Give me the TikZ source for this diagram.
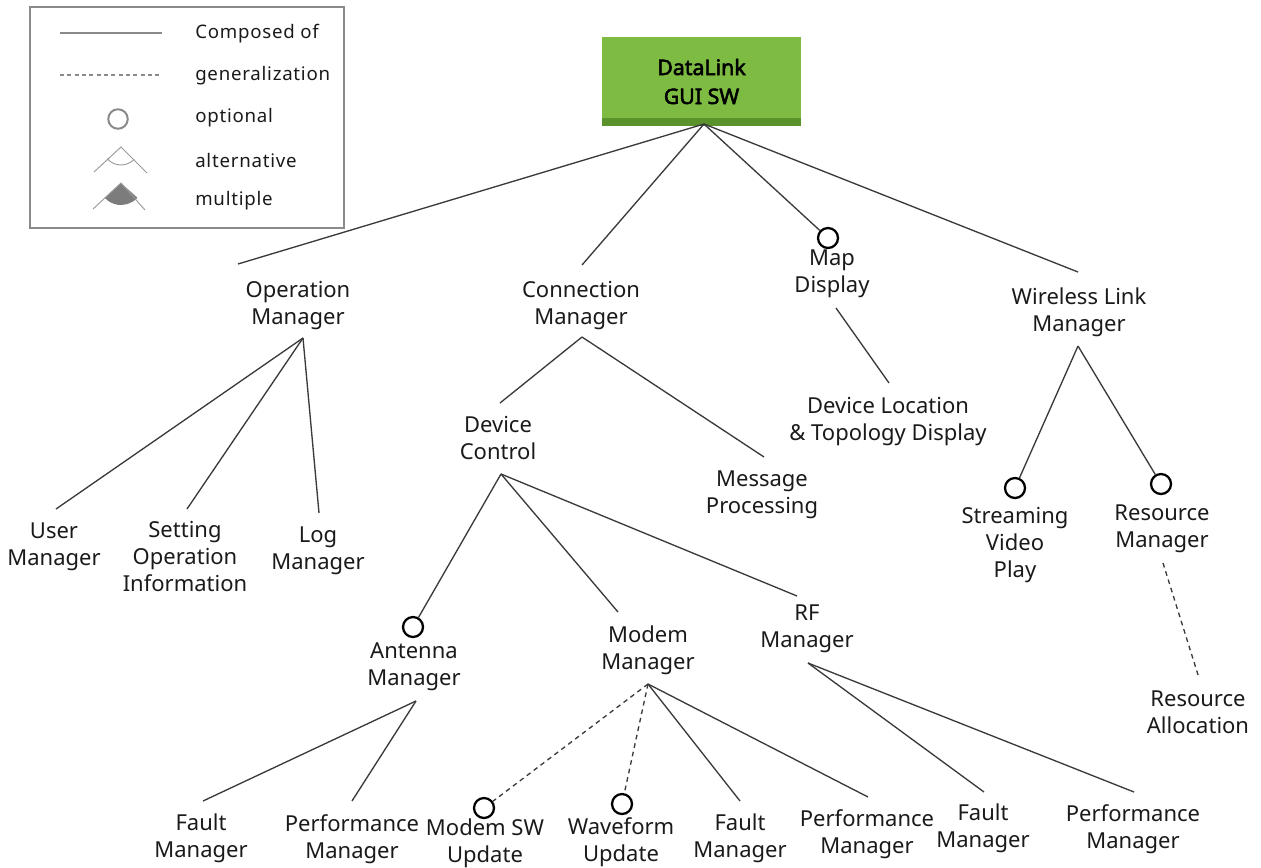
\documentclass[tikz,border=0pt]{standalone}
\usepackage{fontspec}
\setmainfont{Noto Sans}[AutoFakeBold=2.5]
\usetikzlibrary{calc}
\definecolor{linec}{HTML}{3A3A3A}
\definecolor{txtc}{HTML}{1A1A1A}
\definecolor{leggray}{HTML}{8A8A8A}
\definecolor{legsym}{HTML}{9A9A9A}
\definecolor{rootgreen}{HTML}{7DBB42}
\definecolor{rootdark}{HTML}{5A922B}
\begin{document}
\begin{tikzpicture}[x=0.75pt,y=-0.75pt,
  feat/.style={font=\fontsize{16.5}{20.25}\selectfont, text=txtc, align=center, inner sep=0pt, anchor=north},
  opt/.style={circle, draw=black, line width=1.7pt, minimum size=15pt, inner sep=0pt},
  comp/.style={draw=linec, line width=1pt},
  gen/.style={comp, dash pattern=on 3.5pt off 3pt},
  rootbox/.style={fill=rootgreen, minimum width=149.25pt, minimum height=66.75pt, inner sep=0pt,
    font=\bfseries\fontsize{16}{21.75}\selectfont, align=center, text=black},
  legtext/.style={font=\fontsize{14}{16}\selectfont\addfontfeature{LetterSpace=4}, text=txtc, anchor=west, inner sep=0pt},
  legline/.style={draw=leggray, line width=0.8pt},
  legthin/.style={draw=legsym, line width=0.7pt}]
\path[use as bounding box] (0,0) rectangle (1261,868);
\clip (0,0) rectangle (1261,868);

% ---------- legend ----------
\node[draw=leggray, line width=1.5pt, minimum width=235.5pt, minimum height=165.75pt, inner sep=0pt] (legend) at (187,117.5) {};
\draw[legline] (60,33) -- (162,33);
\draw[legline, dash pattern=on 3pt off 2.5pt] (60,75) -- (162,75);
\node[circle, draw=leggray, line width=1.5pt, minimum size=14.6pt, inner sep=0pt] (legopt) at (118,119) {};
\coordinate (altapex) at (121,147);
\draw[legthin] (94,172) -- (altapex) -- (147,173);
\draw[legthin] (altapex) ++(43:18) arc[start angle=43, end angle=139, radius=18];
\coordinate (mulapex) at (121,183);
\fill[fill=leggray!90!black] (mulapex) -- ++(42:22) arc[start angle=42, end angle=138, radius=22] -- cycle;
\draw[legthin] (93,209) -- (mulapex) -- (145,210);
\node[legtext] (lt1) at (195,34) {Composed of};
\node[legtext] (lt2) at (195,76) {generalization};
\node[legtext] (lt3) at (195,118) {optional};
\node[legtext] (lt4) at (195,160) {alternative};
\node[legtext] (lt5) at (195,201) {multiple};

% ---------- root ----------
\node[rootbox] (root) at (701.5,81.5) {DataLink\\GUI SW};
\fill[rootdark] (root.south west) rectangle ([yshift=6pt]root.south east);
\coordinate (rootout) at (704,124);

% ---------- features ----------
\node[feat] (om)  at (298,281) {Operation\\Manager};
\node[feat] (cm)  at (581,281) {Connection\\Manager};
\node[feat] (md)  at (832,250) {Map\\Display};
\node[opt]  (mdc) at (828,238) {};
\node[feat] (wlm) at (1079,288) {Wireless Link\\Manager};

\node[feat] (um)  at (54,523)  {User\\Manager};
\node[feat] (soi) at (185,521) {Setting\\Operation\\Information};
\node[feat] (lm)  at (318,527) {Log\\Manager};

\node[feat] (dc)  at (498,416) {Device\\Control};
\node[feat] (mp)  at (762,471) {Message\\Processing};
\node[feat] (dl)  at (888,397) {Device Location\\\& Topology Display};

\node[opt]  (svc) at (1015,488) {};
\node[feat] (svp) at (1015,507) {Streaming\\Video\\Play};
\node[opt]  (rmc) at (1161,484) {};
\node[feat] (rm)  at (1162,505) {Resource\\Manager};
\node[feat] (ra)  at (1198,691) {Resource\\Allocation};

\node[opt]  (amc) at (413,627) {};
\node[feat] (am)  at (414,642) {Antenna\\Manager};
\node[feat] (mm)  at (648,626) {Modem\\Manager};
\node[feat] (rfm) at (807,605) {RF\\Manager};

\node[feat] (fm1) at (201,814) {Fault\\Manager};
\node[feat] (pm1) at (352,814) {Performance\\Manager};
\node[opt]  (msuc) at (484,808) {};
\node[feat] (msu) at (485,819) {Modem SW\\Update};
\node[opt]  (wuc) at (622,804) {};
\node[feat] (wu)  at (621,817) {Waveform\\Update};
\node[feat] (fm2) at (740,814) {Fault\\Manager};
\node[feat] (pm2) at (867,809) {Performance\\Manager};
\node[feat] (fm3) at (983,804) {Fault\\Manager};
\node[feat] (pm3) at (1133,804) {Performance\\Manager};

% ---------- attachment points ----------
\coordinate (om-in)  at (238,264);
\coordinate (om-out) at (303,338);
\coordinate (cm-in)  at (582,265);
\coordinate (cm-out) at (582,337);
\coordinate (md-out) at (836,308);
\coordinate (wlm-in) at (1078,272);
\coordinate (wlm-out) at (1078,346);
\coordinate (um-in)  at (56,509);
\coordinate (soi-in) at (187,509);
\coordinate (lm-in)  at (319,513);
\coordinate (dc-in)  at (500,403);
\coordinate (dc-out) at (501,474);
\coordinate (mp-in)  at (764,457);
\coordinate (dl-in)  at (889,383);
\coordinate (rm-out) at (1163,563);
\coordinate (ra-in)  at (1199,678);
\coordinate (am-out) at (416,701);
\coordinate (mm-in)  at (618,612);
\coordinate (mm-out) at (648,684);
\coordinate (rfm-in) at (797,596);
\coordinate (rfm-out) at (808,663);
\coordinate (fm1-in) at (203,801);
\coordinate (pm1-in) at (352,801);
\coordinate (fm2-in) at (740,801);
\coordinate (pm2-in) at (868,797);
\coordinate (fm3-in) at (984,792);
\coordinate (pm3-in) at (1134,792);

% ---------- connectors ----------
\draw[comp] (rootout) -- (om-in);
\draw[comp] (rootout) -- (cm-in);
\draw[comp] (rootout) -- (mdc);
\draw[comp] (rootout) -- (wlm-in);

\draw[comp] (om-out) -- (um-in);
\draw[comp] (om-out) -- (soi-in);
\draw[comp] (om-out) -- (lm-in);

\draw[comp] (cm-out) -- (dc-in);
\draw[comp] (cm-out) -- (mp-in);

\draw[comp] (md-out) -- (dl-in);

\draw[comp] (wlm-out) -- (svc);
\draw[comp] (wlm-out) -- (rmc);
\draw[gen]  (rm-out) -- (ra-in);

\draw[comp] (dc-out) -- (amc);
\draw[comp] (dc-out) -- (mm-in);
\draw[comp] (dc-out) -- (rfm-in);

\draw[comp] (am-out) -- (fm1-in);
\draw[comp] (am-out) -- (pm1-in);

\draw[gen]  (mm-out) -- (msuc);
\draw[gen]  (mm-out) -- (wuc);
\draw[comp] (mm-out) -- (fm2-in);
\draw[comp] (mm-out) -- (pm2-in);

\draw[comp] (rfm-out) -- (fm3-in);
\draw[comp] (rfm-out) -- (pm3-in);
\end{tikzpicture}
\end{document}
